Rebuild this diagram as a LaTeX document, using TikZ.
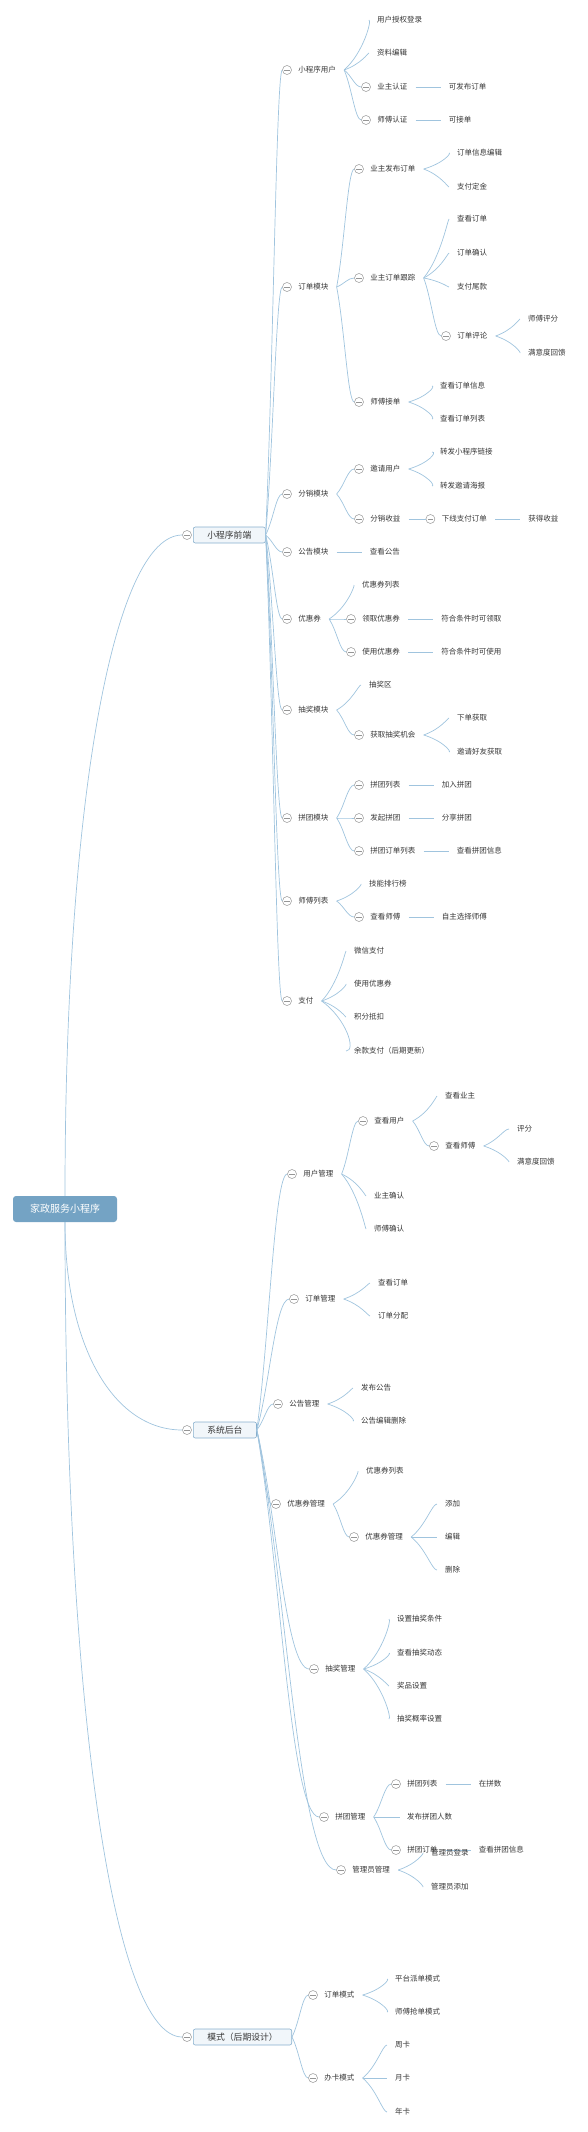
\documentclass[tikz,border=0pt]{standalone}
\usepackage{fontspec}
\setmainfont{Noto Sans CJK SC}
\usetikzlibrary{positioning, calc}
\definecolor{linkblue}{RGB}{160, 196, 222}
\definecolor{foldgray}{RGB}{150, 150, 150}
\definecolor{boxfill}{RGB}{241, 246, 250}
\definecolor{boxline}{RGB}{135, 175, 205}
\definecolor{rootfill}{RGB}{116, 163, 196}
\definecolor{inkgray}{RGB}{55, 55, 55}

\begin{document}
\begin{tikzpicture}[
        x=1pt, y=-1pt,
        topic/.style={
            anchor=west, text=inkgray,
            font=\fontsize{7.5}{9}\selectfont,
            inner xsep=8pt, inner ysep=1pt,
            text height=6.6pt, text depth=0.9pt
        },
        mainbox/.style={
            anchor=west, rounded corners=2pt,
            draw=boxline, fill=boxfill, line width=0.6pt,
            text=inkgray, font=\fontsize{8.8}{10}\selectfont,
            inner xsep=14pt, minimum height=16pt,
            text height=7.7pt, text depth=1.1pt
        },
        rootbox/.style={
            rounded corners=3pt, fill=rootfill, text=white,
            font=\fontsize{10}{12}\selectfont,
            minimum width=104pt, minimum height=26pt
        },
        fold/.style={
            circle, draw=foldgray, fill=white, line width=0.5pt,
            minimum size=9pt, inner sep=0pt,
            path picture={\draw[foldgray, line width=0.5pt]
                ([xshift=-2.6pt]path picture bounding box.center) --
                ([xshift=2.6pt]path picture bounding box.center);}
        },
        link/.style={draw=linkblue, line width=0.7pt},
        branch/.style={to path={
            .. controls ($(\tikztostart)!0.35!(\tikztotarget)$)
            and ($(\tikztostart|-\tikztotarget)!0.5!(\tikztotarget)$)
            .. (\tikztotarget)}},
        trunk/.style={to path={
            .. controls ($(\tikztostart)!0.6!(\tikztostart|-\tikztotarget)$)
            and ($(\tikztostart|-\tikztotarget)!0.4!(\tikztotarget)$)
            .. (\tikztotarget)}}
    ]

    \useasboundingbox (0,0) rectangle (588,2132);

    % root and the three main branches
    \node[rootbox] (app) at (65,1209) {家政服务小程序};
    \node[mainbox] (front) at (193,535) {小程序前端};
    \node[fold] (front-c) at (187,535) {};
    \node[mainbox] (back) at (193,1430) {系统后台};
    \node[fold] (back-c) at (187,1430) {};
    \node[mainbox] (mode) at (193,2037) {模式（后期设计）};
    \node[fold] (mode-c) at (187,2037) {};

    \draw[link] (app.north) to[trunk] (front-c);
    \draw[link] (app.south) to[trunk] (back-c);
    \draw[link] (app.south) to[trunk] (mode-c);

    % ---- 小程序前端
    \node[fold] (mpuser-c) at (287,70) {};
    \node[topic, right=-1.5pt of mpuser-c] (mpuser) {小程序用户};
    \node[fold] (order-c) at (287,287) {};
    \node[topic, right=-1.5pt of order-c] (order) {订单模块};
    \node[fold] (dist-c) at (287,494) {};
    \node[topic, right=-1.5pt of dist-c] (dist) {分销模块};
    \node[fold] (notice-c) at (287,552) {};
    \node[topic, right=-1.5pt of notice-c] (notice) {公告模块};
    \node[fold] (coupon-c) at (287,619) {};
    \node[topic, right=-1.5pt of coupon-c] (coupon) {优惠券};
    \node[fold] (lottery-c) at (287,710) {};
    \node[topic, right=-1.5pt of lottery-c] (lottery) {抽奖模块};
    \node[fold] (group-c) at (287,818) {};
    \node[topic, right=-1.5pt of group-c] (group) {拼团模块};
    \node[fold] (masters-c) at (287,901) {};
    \node[topic, right=-1.5pt of masters-c] (masters) {师傅列表};
    \node[fold] (pay-c) at (287,1001) {};
    \node[topic, right=-1.5pt of pay-c] (pay) {支付};

    \draw[link] (front.east) edge[branch] (mpuser-c) edge[branch] (order-c)
        edge[branch] (dist-c) edge[branch] (notice-c) edge[branch] (coupon-c)
        edge[branch] (lottery-c) edge[branch] (group-c)
        edge[branch] (masters-c) edge[branch] (pay-c);

    % 小程序用户
    \node[topic] (login) at (369,20) {用户授权登录};
    \node[topic] (profile) at (369,53) {资料编辑};
    \node[fold] (owner-c) at (366,87) {};
    \node[topic, right=-1.5pt of owner-c] (owner) {业主认证};
    \node[topic, right=25pt of owner] (ownerpub) {可发布订单};
    \node[fold] (master-c) at (366,120) {};
    \node[topic, right=-1.5pt of master-c] (master) {师傅认证};
    \node[topic, right=25pt of master] (take) {可接单};
    \draw[link] (mpuser.east) edge[branch] (login) edge[branch] (profile)
        edge[branch] (owner-c) edge[branch] (master-c);
    \draw[link] (owner) -- (ownerpub) (master) -- (take);

    % 订单模块
    \node[fold] (publish-c) at (359,169) {};
    \node[topic, right=-1.5pt of publish-c] (publish) {业主发布订单};
    \node[topic] (pubedit) at (449,153) {订单信息编辑};
    \node[topic] (deposit) at (449,187) {支付定金};
    \node[fold] (track-c) at (359,278) {};
    \node[topic, right=-1.5pt of track-c] (track) {业主订单跟踪};
    \node[topic] (trview) at (449,219) {查看订单};
    \node[topic] (trconfirm) at (449,253) {订单确认};
    \node[topic] (balance) at (449,287) {支付尾款};
    \node[fold] (review-c) at (446,336) {};
    \node[topic, right=-1.5pt of review-c] (review) {订单评论};
    \node[topic] (rate) at (520,319) {师傅评分};
    \node[topic] (feedback) at (520,353) {满意度回馈};
    \node[fold] (accept-c) at (359,402) {};
    \node[topic, right=-1.5pt of accept-c] (accept) {师傅接单};
    \node[topic] (acinfo) at (432,386) {查看订单信息};
    \node[topic] (aclist) at (432,419) {查看订单列表};
    \draw[link] (order.east) edge[branch] (publish-c) edge[branch] (track-c)
        edge[branch] (accept-c);
    \draw[link] (publish.east) edge[branch] (pubedit) edge[branch] (deposit);
    \draw[link] (track.east) edge[branch] (trview) edge[branch] (trconfirm)
        edge[branch] (balance) edge[branch] (review-c);
    \draw[link] (review.east) edge[branch] (rate) edge[branch] (feedback);
    \draw[link] (accept.east) edge[branch] (acinfo) edge[branch] (aclist);

    % 分销模块
    \node[fold] (invite-c) at (359,469) {};
    \node[topic, right=-1.5pt of invite-c] (invite) {邀请用户};
    \node[topic] (share) at (432,452) {转发小程序链接};
    \node[topic] (poster) at (432,486) {转发邀请海报};
    \node[fold] (income-c) at (359,519) {};
    \node[topic, right=-1.5pt of income-c] (income) {分销收益};
    \node[fold, right=17pt of income] (suborder-c) {};
    \node[topic, right=-1.5pt of suborder-c] (suborder) {下线支付订单};
    \node[topic, right=25pt of suborder] (gain) {获得收益};
    \draw[link] (dist.east) edge[branch] (invite-c) edge[branch] (income-c);
    \draw[link] (invite.east) edge[branch] (share) edge[branch] (poster);
    \draw[link] (income) -- (suborder-c) (suborder) -- (gain);

    % 公告模块 / 优惠券
    \node[topic, right=25pt of notice] (noticeview) {查看公告};
    \draw[link] (notice) -- (noticeview);
    \node[topic] (cplist) at (354,585) {优惠券列表};
    \node[fold] (cpget-c) at (351,619) {};
    \node[topic, right=-1.5pt of cpget-c] (cpget) {领取优惠券};
    \node[topic, right=25pt of cpget] (cpgetrule) {符合条件时可领取};
    \node[fold] (cpuse-c) at (351,652) {};
    \node[topic, right=-1.5pt of cpuse-c] (cpuse) {使用优惠券};
    \node[topic, right=25pt of cpuse] (cpuserule) {符合条件时可使用};
    \draw[link] (coupon.east) edge[branch] (cplist) edge[branch] (cpget-c)
        edge[branch] (cpuse-c);
    \draw[link] (cpget) -- (cpgetrule) (cpuse) -- (cpuserule);

    % 抽奖模块
    \node[topic] (lotarea) at (361,685) {抽奖区};
    \node[fold] (chance-c) at (359,735) {};
    \node[topic, right=-1.5pt of chance-c] (chance) {获取抽奖机会};
    \node[topic] (chorder) at (449,718) {下单获取};
    \node[topic] (chfriend) at (449,752) {邀请好友获取};
    \draw[link] (lottery.east) edge[branch] (lotarea) edge[branch] (chance-c);
    \draw[link] (chance.east) edge[branch] (chorder) edge[branch] (chfriend);

    % 拼团模块
    \node[fold] (grlist-c) at (359,785) {};
    \node[topic, right=-1.5pt of grlist-c] (grlist) {拼团列表};
    \node[topic, right=25pt of grlist] (grjoin) {加入拼团};
    \node[fold] (grstart-c) at (359,818) {};
    \node[topic, right=-1.5pt of grstart-c] (grstart) {发起拼团};
    \node[topic, right=25pt of grstart] (grshare) {分享拼团};
    \node[fold] (grorders-c) at (359,851) {};
    \node[topic, right=-1.5pt of grorders-c] (grorders) {拼团订单列表};
    \node[topic, right=25pt of grorders] (grinfo) {查看拼团信息};
    \draw[link] (group.east) edge[branch] (grlist-c) edge[branch] (grstart-c)
        edge[branch] (grorders-c);
    \draw[link] (grlist) -- (grjoin) (grstart) -- (grshare)
        (grorders) -- (grinfo);

    % 师傅列表 / 支付
    \node[topic] (skill) at (361,884) {技能排行榜};
    \node[fold] (mview-c) at (359,917) {};
    \node[topic, right=-1.5pt of mview-c] (mview) {查看师傅};
    \node[topic, right=25pt of mview] (mpick) {自主选择师傅};
    \draw[link] (masters.east) edge[branch] (skill) edge[branch] (mview-c);
    \draw[link] (mview) -- (mpick);
    \node[topic] (wechat) at (346,951) {微信支付};
    \node[topic] (paycp) at (346,984) {使用优惠券};
    \node[topic] (points) at (346,1017) {积分抵扣};
    \node[topic] (rest) at (346,1051) {余款支付（后期更新）};
    \draw[link] (pay.east) edge[branch] (wechat) edge[branch] (paycp)
        edge[branch] (points) edge[branch] (rest);

    % ---- 系统后台
    \node[fold] (umgr-c) at (292,1174) {};
    \node[topic, right=-1.5pt of umgr-c] (umgr) {用户管理};
    \node[fold] (omgr-c) at (294,1299) {};
    \node[topic, right=-1.5pt of omgr-c] (omgr) {订单管理};
    \node[fold] (nmgr-c) at (278,1404) {};
    \node[topic, right=-1.5pt of nmgr-c] (nmgr) {公告管理};
    \node[fold] (cmgr-c) at (276,1504) {};
    \node[topic, right=-1.5pt of cmgr-c] (cmgr) {优惠券管理};
    \node[fold] (lmgr-c) at (314,1669) {};
    \node[topic, right=-1.5pt of lmgr-c] (lmgr) {抽奖管理};
    \node[fold] (gmgr-c) at (324,1817) {};
    \node[topic, right=-1.5pt of gmgr-c] (gmgr) {拼团管理};
    \node[fold] (amgr-c) at (341,1870) {};
    \node[topic, right=-1.5pt of amgr-c] (amgr) {管理员管理};

    \draw[link] (back.east) edge[branch] (umgr-c) edge[branch] (omgr-c)
        edge[branch] (nmgr-c) edge[branch] (cmgr-c) edge[branch] (lmgr-c)
        edge[branch] (gmgr-c) edge[branch] (amgr-c);

    % 用户管理
    \node[fold] (uview-c) at (363,1121) {};
    \node[topic, right=-1.5pt of uview-c] (uview) {查看用户};
    \node[topic] (vowner) at (437,1096) {查看业主};
    \node[fold] (vmaster-c) at (434,1146) {};
    \node[topic, right=-1.5pt of vmaster-c] (vmaster) {查看师傅};
    \node[topic] (vrate) at (509,1129) {评分};
    \node[topic] (vfeed) at (509,1162) {满意度回馈};
    \node[topic] (ownerok) at (366,1196) {业主确认};
    \node[topic] (masterok) at (366,1229) {师傅确认};
    \draw[link] (umgr.east) edge[branch] (uview-c) edge[branch] (ownerok)
        edge[branch] (masterok);
    \draw[link] (uview.east) edge[branch] (vowner) edge[branch] (vmaster-c);
    \draw[link] (vmaster.east) edge[branch] (vrate) edge[branch] (vfeed);

    % 订单管理 / 公告管理
    \node[topic] (oview) at (370,1283) {查看订单};
    \node[topic] (oassign) at (370,1316) {订单分配};
    \draw[link] (omgr.east) edge[branch] (oview) edge[branch] (oassign);
    \node[topic] (npub) at (353,1388) {发布公告};
    \node[topic] (nedit) at (353,1421) {公告编辑删除};
    \draw[link] (nmgr.east) edge[branch] (npub) edge[branch] (nedit);

    % 优惠券管理
    \node[topic] (clist) at (358,1471) {优惠券列表};
    \node[fold] (cset-c) at (354,1537) {};
    \node[topic, right=-1.5pt of cset-c] (cset) {优惠券管理};
    \node[topic] (cadd) at (437,1504) {添加};
    \node[topic] (cedit) at (437,1537) {编辑};
    \node[topic] (cdel) at (437,1570) {删除};
    \draw[link] (cmgr.east) edge[branch] (clist) edge[branch] (cset-c);
    \draw[link] (cset.east) edge[branch] (cadd) edge[branch] (cedit)
        edge[branch] (cdel);

    % 抽奖管理
    \node[topic] (lcond) at (389,1619) {设置抽奖条件};
    \node[topic] (ldyn) at (389,1653) {查看抽奖动态};
    \node[topic] (lprize) at (389,1686) {奖品设置};
    \node[topic] (lprob) at (389,1719) {抽奖概率设置};
    \draw[link] (lmgr.east) edge[branch] (lcond) edge[branch] (ldyn)
        edge[branch] (lprize) edge[branch] (lprob);

    % 拼团管理 / 管理员管理
    \node[fold] (glist-c) at (396,1784) {};
    \node[topic, right=-1.5pt of glist-c] (glist) {拼团列表};
    \node[topic, right=25pt of glist] (gcount) {在拼数};
    \node[topic] (gpub) at (399,1817) {发布拼团人数};
    \node[fold] (gorder-c) at (396,1850) {};
    \node[topic, right=-1.5pt of gorder-c] (gorder) {拼团订单};
    \node[topic, right=25pt of gorder] (ginfo) {查看拼团信息};
    \draw[link] (gmgr.east) edge[branch] (glist-c) edge[branch] (gpub)
        edge[branch] (gorder-c);
    \draw[link] (glist) -- (gcount) (gorder) -- (ginfo);
    \node[topic] (alogin) at (423,1853) {管理员登录};
    \node[topic] (aadd) at (423,1887) {管理员添加};
    \draw[link] (amgr.east) edge[branch] (alogin) edge[branch] (aadd);

    % ---- 模式（后期设计）
    \node[fold] (omode-c) at (313,1995) {};
    \node[topic, right=-1.5pt of omode-c] (omode) {订单模式};
    \node[fold] (card-c) at (313,2078) {};
    \node[topic, right=-1.5pt of card-c] (card) {办卡模式};
    \draw[link] (mode.east) edge[branch] (omode-c) edge[branch] (card-c);
    \node[topic] (platform) at (387,1979) {平台派单模式};
    \node[topic] (grab) at (387,2012) {师傅抢单模式};
    \draw[link] (omode.east) edge[branch] (platform) edge[branch] (grab);
    \node[topic] (week) at (387,2045) {周卡};
    \node[topic] (month) at (387,2078) {月卡};
    \node[topic] (year) at (387,2112) {年卡};
    \draw[link] (card.east) edge[branch] (week) edge[branch] (month)
        edge[branch] (year);

\end{tikzpicture}
\end{document}
